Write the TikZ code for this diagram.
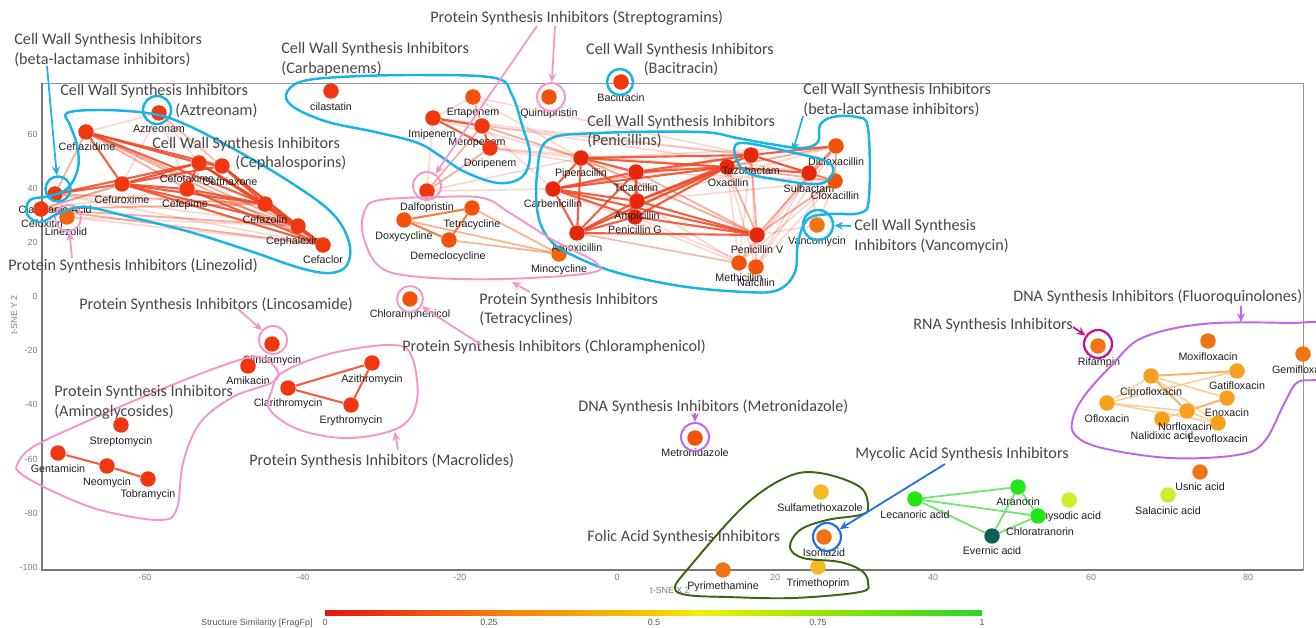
\documentclass[tikz,border=0pt]{standalone}
\usepackage{fontspec}
\newfontfamily\arialf{Liberation Sans}
\newfontfamily\calf{Carlito}
\usetikzlibrary{arrows.meta,calc}
\pgfdeclarelayer{bglayer}
\pgfdeclarelayer{edgelayer}
\pgfsetlayers{bglayer,edgelayer,main}
\definecolor{cyanC}{RGB}{25,180,230}
\definecolor{pinkC}{RGB}{245,150,200}
\definecolor{purpC}{RGB}{190,100,240}
\definecolor{magC}{RGB}{200,20,140}
\definecolor{dgreenC}{RGB}{60,100,20}
\definecolor{blueC}{RGB}{30,110,230}
\definecolor{edgeS}{RGB}{238,70,35}
\definecolor{edgeT}{RGB}{242,105,35}
\definecolor{fqS}{RGB}{245,170,80}
\definecolor{fqW}{RGB}{248,200,140}
\definecolor{licC}{RGB}{110,230,110}
\definecolor{cR}{RGB}{240,55,15}
\definecolor{cRd}{RGB}{232,38,10}
\definecolor{cRO}{RGB}{243,82,10}
\definecolor{cRO2}{RGB}{243,100,15}
\definecolor{cO}{RGB}{240,115,20}
\definecolor{cLO}{RGB}{247,160,30}
\definecolor{cYO}{RGB}{247,185,35}
\definecolor{cG}{RGB}{35,230,20}
\definecolor{cLi}{RGB}{200,240,45}
\definecolor{cT}{RGB}{15,95,85}
\definecolor{axC}{RGB}{150,150,150}
\newcommand\drugnode[7]{\node[dot,fill=#4] (#1) at (#2,#3) {}; \node[lbl] (#1l) at (#5,#6) {#7};}
\tikzset{
 dot/.style={circle, inner sep=0pt, minimum size=0.31cm, draw=none},
 lbl/.style={font=\arialf\fontsize{6.1}{7}\selectfont, text=black!88, inner sep=0pt, anchor=mid},
 ann/.style={font=\calf\fontsize{9.2}{11}\selectfont, text=black!72, inner sep=0pt, anchor=mid west},
 annc/.style={ann, anchor=mid},
 tick/.style={font=\arialf\fontsize{5.1}{6}\selectfont, text=black!50, inner sep=0pt},
 es/.style={draw=edgeS, line width=1.2pt, draw opacity=0.85},
 em/.style={draw=edgeS, line width=1pt, draw opacity=0.45},
 ew/.style={draw=edgeS, line width=0.9pt, draw opacity=0.22},
 ets/.style={draw=edgeT, line width=1.2pt, draw opacity=0.85},
 etm/.style={draw=edgeT, line width=1pt, draw opacity=0.5},
 fqs/.style={draw=fqS, line width=1.1pt, draw opacity=0.9},
 fqw/.style={draw=fqW, line width=0.9pt, draw opacity=0.85},
 lic/.style={draw=licC, line width=1pt},
 ring/.style={circle, inner sep=0pt, fill=none},
 ringC/.style={ring, draw=cyanC, line width=1.4pt},
 ringP/.style={ring, draw=pinkC, line width=1.1pt},
 ringV/.style={ring, draw=purpC, line width=1.1pt},
 ringM/.style={ring, draw=magC, line width=1.3pt},
 ringB/.style={ring, draw=blueC, line width=1.2pt},
 hullC/.style={draw=cyanC, line width=1.4pt},
 hullP/.style={draw=pinkC, line width=1.1pt},
 hullV/.style={draw=purpC, line width=1.1pt},
 hullG/.style={draw=dgreenC, line width=1.1pt},
 tipA/.style={-{Stealth[length=5pt,width=4.5pt]}},
 arrC/.style={draw=cyanC, line width=1pt, tipA},
 arrP/.style={draw=pinkC, line width=1pt, tipA},
 arrV/.style={draw=purpC, line width=1pt, tipA},
 arrM/.style={draw=magC, line width=1pt, tipA},
 arrB/.style={draw=blueC, line width=1pt, tipA},
}
\begin{document}
\begin{tikzpicture}[x=0.02cm,y=-0.02cm]
\useasboundingbox (0,0) rectangle (1316,628);
\begin{pgfonlayer}{bglayer}
\fill[white] (0,0) rectangle (1316,628);
\end{pgfonlayer}
% frame and axes
\draw[axC, line width=0.5pt] (42,83) rectangle (1303,570);
\draw[axC!80!black, line width=0.8pt] (42,83) -- (42,570) -- (1303,570);
\foreach \v/\yy in {60/134,40/188,20/242,0/296,-20/350,-40/404,-60/459,-80/513,-100/567}
  \node[tick, anchor=mid east] (yt\yy) at (38,\yy) {\v};
\foreach \v/\xx in {-60/145,-40/303,-20/460,0/617,20/775,40/933,60/1091,80/1248}
  \node[tick, anchor=mid] (xt\xx) at (\xx,577) {\v};
\node[tick, rotate=90] (ytitle) at (14,315) {t-SNE Y 2};
\node[tick] (xtitle) at (670,590) {t-SNE X 2};
% colour bar
\shade[left color={rgb,255:red,230;green,20;blue,20}, right color={rgb,255:red,245;green,120;blue,10}] (325,610) rectangle (489,615);
\shade[left color={rgb,255:red,245;green,120;blue,10}, right color={rgb,255:red,245;green,200;blue,0}] (489,610) rectangle (654,615);
\shade[left color={rgb,255:red,245;green,200;blue,0}, right color={rgb,255:red,240;green,240;blue,0}] (654,610) rectangle (700,615);
\shade[left color={rgb,255:red,240;green,240;blue,0}, right color={rgb,255:red,150;green,230;blue,0}] (700,610) rectangle (818,615);
\shade[left color={rgb,255:red,150;green,230;blue,0}, right color={rgb,255:red,40;green,215;blue,40}] (818,610) rectangle (982,615);
\node[tick, text=black!65, anchor=mid east] (cbt) at (313,622) {Structure Similarity [FragFp]};
\foreach \v/\xx in {0/325,0.25/489,0.5/654,0.75/818,1/982}
  \node[tick, text=black!65] (cb\xx) at (\xx,622) {\v};
% ---------- drug nodes ----------
\drugnode{CIL}{331}{91}{cR}{331}{107}{cilastatin}
\drugnode{AZT}{159}{113}{cR}{159}{129}{Aztreonam}
\drugnode{CTZ}{86}{132}{cR}{87}{147}{Ceftazidime}
\drugnode{CTX}{199}{163}{cR}{187}{179}{Cefotaxime}
\drugnode{CRO}{222}{166}{cR}{230}{182}{Ceftriaxone}
\drugnode{CXM}{122}{184}{cR}{122}{200}{Cefuroxime}
\drugnode{FEP}{187}{189}{cR}{185}{204}{Cefepime}
\drugnode{CFZ}{265}{204}{cR}{265}{220}{Cefazolin}
\drugnode{LEX}{298}{226}{cR}{293}{241}{Cephalexin}
\drugnode{CEC}{323}{245}{cR}{323}{260}{Cefaclor}
\drugnode{CLA}{55}{194}{cR}{55}{210}{Clavulanic Acid}
\drugnode{FOX}{41}{209}{cR}{42}{224}{Cefoxitin}
\drugnode{LZD}{67}{217}{cRO2}{66}{232}{Linezolid}
\drugnode{ETP}{473}{97}{cRO}{473}{112}{Ertapenem}
\drugnode{IPM}{433}{118}{cR}{432}{134}{Imipenem}
\drugnode{MEM}{482}{126}{cR}{477}{142}{Meropenem}
\drugnode{DOR}{490}{148}{cR}{490}{163}{Doripenem}
\drugnode{DAL}{427}{191}{cR}{427}{207}{Dalfopristin}
\drugnode{QUI}{549}{97}{cRO}{549}{113}{Quinupristin}
\drugnode{TET}{472}{208}{cRO}{472}{224}{Tetracycline}
\drugnode{DOX}{404}{220}{cRO}{404}{236}{Doxycycline}
\drugnode{DEM}{449}{240}{cRO}{448}{256}{Demeclocycline}
\drugnode{MIN}{559}{254}{cRO2}{559}{269}{Minocycline}
\drugnode{CHL}{410}{299}{cRO}{410}{314}{Chloramphenicol}
\drugnode{BAC}{621}{82}{cR}{621}{98}{Bacitracin}
\drugnode{PIP}{581}{158}{cRd}{581}{173}{Piperacillin}
\drugnode{TIC}{636}{172}{cRd}{636}{188}{Ticarcillin}
\drugnode{CAR}{553}{189}{cRd}{553}{204}{Carbenicillin}
\drugnode{PNG}{635}{217}{cRd}{635}{230}{Penicillin G}
\drugnode{AMP}{637}{201}{cRd}{637}{216}{Ampicillin}
\drugnode{AMX}{577}{233}{cRd}{577}{248}{Amoxicillin}
\drugnode{OXA}{727}{167}{cRd}{728}{183}{Oxacillin}
\drugnode{TZB}{751}{155}{cRd}{751}{171}{Tazobactam}
\drugnode{SUL}{809}{173}{cRd}{809}{189}{Sulbactam}
\drugnode{DIC}{836}{146}{cRO}{836}{162}{Dicloxacillin}
\drugnode{CLX}{835}{181}{cRO}{835}{196}{Cloxacillin}
\drugnode{VAN}{817}{225}{cO}{817}{241}{Vancomycin}
\drugnode{PNV}{757}{235}{cRd}{757}{250}{Penicillin V}
\drugnode{MET}{739}{263}{cRO}{739}{278}{Methicillin}
\drugnode{NAF}{756}{267}{cRO}{756}{283}{Nafcillin}
\drugnode{CLI}{272}{344}{cR}{272}{360}{Clindamycin}
\drugnode{AMK}{248}{366}{cR}{248}{381}{Amikacin}
\drugnode{AZM}{372}{363}{cR}{372}{379}{Azithromycin}
\drugnode{CLR}{288}{388}{cR}{288}{403}{Clarithromycin}
\drugnode{ERY}{351}{405}{cR}{351}{420}{Erythromycin}
\drugnode{STR}{121}{425}{cR}{121}{441}{Streptomycin}
\drugnode{GEN}{58}{453}{cR}{58}{469}{Gentamicin}
\drugnode{NEO}{107}{466}{cR}{107}{482}{Neomycin}
\drugnode{TOB}{148}{479}{cR}{148}{494}{Tobramycin}
\drugnode{MTZ}{695}{438}{cRO}{695}{453}{Metronidazole}
\drugnode{RIF}{1098}{346}{cO}{1099}{362}{Rifampin}
\drugnode{MOX}{1208}{341}{cO}{1208}{357}{Moxifloxacin}
\drugnode{GEM}{1303}{354}{cO}{1303}{370}{Gemifloxacin}
\drugnode{CIP}{1151}{376}{cLO}{1151}{392}{Ciprofloxacin}
\drugnode{GAT}{1237}{371}{cLO}{1237}{386}{Gatifloxacin}
\drugnode{OFX}{1107}{403}{cLO}{1107}{419}{Ofloxacin}
\drugnode{ENX}{1227}{398}{cLO}{1227}{413}{Enoxacin}
\drugnode{NAL}{1162}{419}{cLO}{1162}{436}{Nalidixic acid}
\drugnode{NOR}{1187}{411}{cLO}{1185}{427}{Norfloxacin}
\drugnode{LVX}{1218}{423}{cLO}{1218}{439}{Levofloxacin}
\drugnode{USN}{1200}{472}{cO}{1200}{487}{Usnic acid}
\drugnode{SAL}{1168}{495}{cLi}{1168}{511}{Salacinic acid}
\drugnode{LEC}{915}{499}{cG}{915}{515}{Lecanoric acid}
\drugnode{ATR}{1018}{487}{cG}{1018}{502}{Atranorin}
\drugnode{PHY}{1069}{500}{cLi}{1068}{516}{Physodic acid}
\drugnode{CHT}{1038}{516}{cG}{1040}{532}{Chloratranorin}
\drugnode{EVE}{992}{536}{cT}{992}{551}{Evernic acid}
\drugnode{SMX}{821}{492}{cYO}{820}{508}{Sulfamethoxazole}
\drugnode{INH}{824}{537}{cO}{824}{553}{Isoniazid}
\drugnode{TMP}{818}{567}{cYO}{818}{583}{Trimethoprim}
\drugnode{PYR}{723}{570}{cO}{723}{586}{Pyrimethamine}
% ---------- edges ----------
\begin{pgfonlayer}{edgelayer}
\foreach \a/\b in {AZT/CTZ,AZT/CXM,AZT/FEP,AZT/CTX,AZT/CFZ,AZT/CRO,CLA/CEC,LZD/CEC,LZD/LEX,FOX/FEP,FOX/CTX,CLA/LEX,
  ETP/IPM,IPM/DAL,DOR/PIP,IPM/PIP,MEM/CAR,ETP/TZB,MEM/TZB,IPM/SUL,DOR/OXA,DAL/CAR,DAL/PIP,ETP/PIP,IPM/TZB,DOR/TIC,
  PNV/MET,PNV/NAF,OXA/MET,OXA/NAF,MET/CLX,NAF/CLX,MET/DIC,NAF/DIC,VAN/PNV,CAR/MET,AMP/MET,TZB/MET,AMP/DIC,AMP/CLX,
  PIP/DIC,TIC/CLX,AMX/MET,MET/SUL,NAF/SUL,AMX/NAF,PNG/NAF,VAN/CLX,VAN/SUL,TZB/NAF}
  \draw[ew] (\a) -- (\b);
\foreach \a/\b in {CTZ/FEP,CTZ/LEX,CTZ/CEC,FOX/CXM,FOX/CFZ,FOX/LEX,FOX/CEC,CLA/CTZ,FEP/LEX,CLA/CFZ,
  ETP/MEM,MEM/DAL,DOR/DAL,MEM/PIP,
  TIC/PNV,PIP/PNV,OXA/PNV,TZB/PNV,OXA/DIC,OXA/CLX,PNV/CLX,PNV/DIC,TZB/CLX,SUL/DIC,SUL/CLX,DIC/CLX,CAR/TZB,AMX/TZB}
  \draw[em] (\a) -- (\b);
\foreach \a/\b in {CTZ/CTX,CTZ/CRO,CTZ/CXM,CTZ/CFZ,CXM/CTX,CXM/CRO,CXM/FEP,CXM/CFZ,CXM/LEX,CXM/CEC,CTX/CFZ,CTX/LEX,
  CTX/CEC,CRO/CFZ,CRO/CEC,CRO/LEX,FEP/CFZ,FEP/CEC,CFZ/LEX,CFZ/CEC,LEX/CEC,CTX/CRO,FEP/CTX,CLA/CXM,CLA/CTX,
  IPM/MEM,IPM/DOR,MEM/DOR,
  PIP/CAR,PIP/TIC,PIP/AMP,PIP/AMX,CAR/TIC,CAR/AMP,CAR/PNG,CAR/AMX,TIC/AMP,TIC/PNG,TIC/AMX,AMP/AMX,AMP/PNG,AMX/PNG,
  TIC/OXA,AMP/OXA,PNG/OXA,AMX/OXA,CAR/OXA,TIC/TZB,PIP/TZB,PNG/PNV,AMP/PNV,CAR/PNV,AMX/PNV,TZB/SUL,TZB/DIC,OXA/SUL,
  AMP/TZB,PIP/OXA,
  CLR/AZM,CLR/ERY,AZM/ERY,GEN/NEO,NEO/TOB}
  \draw[es] (\a) -- (\b);
\foreach \a/\b in {DOX/TET,DOX/DEM,TET/DEM} \draw[ets] (\a) -- (\b);
\foreach \a/\b in {DOX/MIN,TET/MIN,DEM/MIN} \draw[etm] (\a) -- (\b);
\foreach \a/\b in {OFX/CIP,OFX/NOR,OFX/GAT,CIP/LVX,NOR/LVX,OFX/LVX,NAL/NOR,CIP/ENX} \draw[fqw] (\a) -- (\b);
\foreach \a/\b in {CIP/NOR,NOR/ENX,CIP/GAT} \draw[fqs] (\a) -- (\b);
\foreach \a/\b in {LEC/ATR,LEC/CHT,LEC/EVE,ATR/CHT,ATR/EVE,EVE/CHT} \draw[lic] (\a) -- (\b);
\end{pgfonlayer}
% ---------- rings ----------
\node[ringC, minimum size=0.56cm] (cAZT) at (157,110) {};
\node[ringC, minimum size=0.50cm] (cCLA) at (58,189) {};
\node[ringC, minimum size=0.52cm] (cBAC) at (620,82) {};
\node[ringC, minimum size=0.60cm] (cVAN) at (818,225) {};
\node[ringP, minimum size=0.52cm] (cLZD) at (68,218) {};
\node[ringP, minimum size=0.56cm] (cQUI) at (551,97) {};
\node[ringP, minimum size=0.56cm] (cDAL) at (427,186) {};
\node[ringP, minimum size=0.52cm] (cCHL) at (410,299) {};
\node[ringP, minimum size=0.56cm] (cCLI) at (273,340) {};
\node[ringV, minimum size=0.56cm] (cMTZ) at (695,437) {};
\node[ringM, minimum size=0.56cm] (cRIF) at (1098,344) {};
\node[ringB, minimum size=0.56cm] (cINH) at (827,537) {};
% ---------- hulls ----------
\draw[hullC] plot[smooth cycle, tension=0.6] coordinates {(67,113) (100,110) (147,113) (180,122) (232,148) (290,182) (332,213) (349,242) (347,265) (330,273) (300,268) (250,251) (190,232) (130,217) (85,207) (60,213) (40,222) (27,214) (30,200) (50,196) (68,188) (78,168) (77,145) (70,125)};
\draw[hullC] plot[smooth cycle, tension=0.6] coordinates {(286,95) (300,82) (340,77) (420,75) (495,78) (512,95) (522,125) (530,155) (522,177) (498,183) (465,172) (443,158) (418,143) (375,132) (328,122) (295,108)};
\draw[hullC] plot[smooth cycle, tension=0.6] coordinates {(548,140) (600,133) (700,132) (737,138) (770,144) (802,148) (818,142) (820,125) (833,117) (856,117) (868,128) (869,198) (860,213) (830,214) (808,219) (798,242) (795,272) (778,290) (745,292) (680,286) (615,272) (572,255) (550,240) (538,215) (537,175)};
\draw[hullC] plot[smooth cycle, tension=0.6] coordinates {(740,143) (790,152) (828,162) (832,175) (818,184) (780,180) (748,173) (736,158)};
\draw[hullP] plot[smooth cycle, tension=0.6] coordinates {(365,210) (380,200) (437,197) (483,198) (510,213) (553,240) (595,262) (590,273) (503,279) (420,277) (380,267) (363,235)};
\draw[hullP] plot[smooth cycle, tension=0.6] coordinates {(18,463) (33,447) (83,423) (167,387) (233,362) (260,357) (277,370) (273,382) (233,397) (200,423) (183,463) (177,508) (160,520) (100,510) (50,490) (20,473)};
\draw[hullP] plot[smooth cycle, tension=0.6] coordinates {(283,372) (333,353) (393,345) (412,357) (417,400) (400,427) (350,438) (300,430) (270,410) (272,390)};
\draw[hullV] plot[smooth cycle, tension=0.6] coordinates {(1112,365) (1142,338) (1203,324) (1288,323) (1325,327) (1325,375) (1298,382) (1285,402) (1264,442) (1237,455) (1170,458) (1102,448) (1075,435) (1073,418) (1085,395)};
\draw[hullG] plot[smooth cycle, tension=0.6] coordinates {(675,588) (687,570) (743,507) (787,477) (820,473) (860,487) (868,508) (860,515) (827,520) (800,530) (790,547) (803,558) (840,562) (862,571) (868,583) (860,592) (793,598) (727,597) (687,595)};
% ---------- annotation texts ----------
\node[ann] (tBL1) at (14,41) {Cell Wall Synthesis Inhibitors};
\node[ann] (tBL2) at (14,61) {(beta-lactamase inhibitors)};
\node[ann] (tAZ1) at (60,92) {Cell Wall Synthesis Inhibitors};
\node[ann] (tAZ2) at (175,112) {(Aztreonam)};
\node[ann] (tCE1) at (152,145) {Cell Wall Synthesis Inhibitors};
\node[ann] (tCE2) at (235,164) {(Cephalosporins)};
\node[ann] (tCA1) at (281,50) {Cell Wall Synthesis Inhibitors};
\node[ann] (tCA2) at (281,70) {(Carbapenems)};
\node[ann] (tST) at (430,19) {Protein Synthesis Inhibitors (Streptogramins)};
\node[annc] (tBA1) at (680,51) {Cell Wall Synthesis Inhibitors};
\node[annc] (tBA2) at (681,70) {(Bacitracin)};
\node[ann] (tPE1) at (587,123) {Cell Wall Synthesis Inhibitors};
\node[ann] (tPE2) at (587,142) {(Penicillins)};
\node[ann] (tBR1) at (803,91) {Cell Wall Synthesis Inhibitors};
\node[ann] (tBR2) at (803,111) {(beta-lactamase inhibitors)};
\node[ann] (tVA1) at (854,227) {Cell Wall Synthesis};
\node[ann] (tVA2) at (854,247) {Inhibitors (Vancomycin)};
\node[ann] (tLZ) at (8,267) {Protein Synthesis Inhibitors (Linezolid)};
\node[ann] (tLI) at (79,306) {Protein Synthesis Inhibitors (Lincosamide)};
\node[ann] (tTE1) at (479,301) {Protein Synthesis Inhibitors};
\node[ann] (tTE2) at (479,320) {(Tetracyclines)};
\node[ann] (tCH) at (402,348) {Protein Synthesis Inhibitors (Chloramphenicol)};
\node[ann] (tAM1) at (54,393) {Protein Synthesis Inhibitors};
\node[ann] (tAM2) at (54,413) {(Aminoglycosides)};
\node[ann] (tMA) at (249,462) {Protein Synthesis Inhibitors (Macrolides)};
\node[ann] (tME) at (578,408) {DNA Synthesis Inhibitors (Metronidazole)};
\node[ann] (tRN) at (913,326) {RNA Synthesis Inhibitors};
\node[ann] (tFQ) at (1013,298) {DNA Synthesis Inhibitors (Fluoroquinolones)};
\node[ann] (tMY) at (855,455) {Mycolic Acid Synthesis Inhibitors};
\node[ann] (tFO) at (587,538) {Folic Acid Synthesis Inhibitors};
% ---------- annotation arrows ----------
\coordinate (aBL) at (47,66);
\coordinate (aBR) at (803,116);
\coordinate (tzbT) at (793,151);
\coordinate (aVA) at (851,226);
\coordinate (aLZ) at (72,258);
\coordinate (aST1) at (555,26);
\coordinate (aST2) at (537,26);
\coordinate (aTE) at (530,292);
\coordinate (tetT) at (512,282);
\coordinate (aCH) at (480,344);
\coordinate (aLI) at (238,309);
\coordinate (aMA) at (398,450);
\coordinate (macT) at (395,432);
\coordinate (aME) at (695,413);
\coordinate (aRN) at (1073,327);
\coordinate (aFQ) at (1241,306);
\coordinate (fqT) at (1241,322);
\coordinate (aMY) at (945,464);
\draw[arrC] (aBL) -- (cCLA);
\draw[arrC] (aBR) -- (tzbT);
\draw[arrC] (aVA) -- (cVAN);
\draw[arrP] (aLZ) -- (cLZD);
\draw[arrP] (aST1) -- (cQUI);
\draw[arrP] (aST2) -- (cDAL);
\draw[arrP] (aTE) -- (tetT);
\draw[arrP] (aCH) -- (cCHL);
\draw[arrP] (aLI) -- (cCLI);
\draw[arrP] (aMA) -- (macT);
\draw[arrV] (aME) -- (cMTZ);
\draw[arrM] (aRN) -- (cRIF);
\draw[arrV] (aFQ) -- (fqT);
\draw[arrB] (aMY) -- (cINH);
\end{tikzpicture}
\end{document}
